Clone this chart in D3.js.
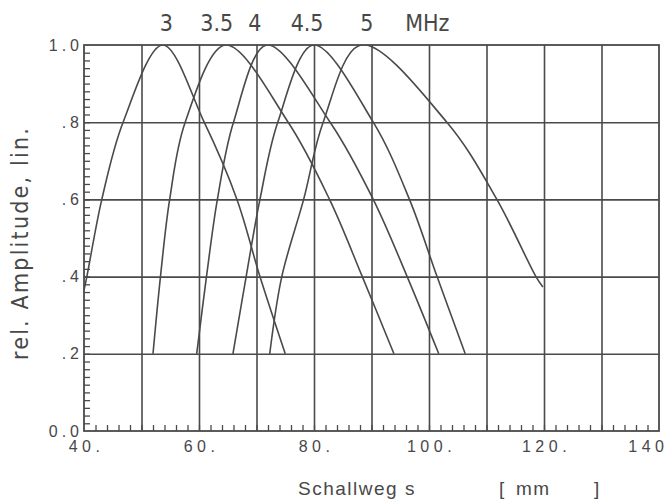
<!DOCTYPE html>
<html>
<head>
<meta charset="utf-8">
<script src="https://cdn.jsdelivr.net/npm/d3@7"></script>
<style>
  html, body { margin: 0; padding: 0; background: #fff; }
  svg { display: block; }
  text { white-space: pre; }
</style>
</head>
<body>
<div id="chart"></div>
<script>
// ---------------- DATA ----------------
const xTickVals   = [40, 60, 80, 100, 120, 140];
const xTickLabels = ["40.", "60.", "80.", "100.", "120.", "140"];
const yTickVals   = [0, 0.2, 0.4, 0.6, 0.8, 1.0];
const yTickLabels = ["0.0", ".2", ".4", ".6", ".8", "1.0"];
const xGrid = [50, 60, 70, 80, 90, 100, 110, 120, 130];
const yGrid = [0.2, 0.4, 0.6, 0.8];

const freqLabels  = ["3", "3.5", "4", "4.5", "5", "MHz"];
const freqLabelX  = [54.3, 63.1, 69.7, 78.8, 89.2, 99.7];

// curves: [Schallweg mm, rel. Amplitude]
const curve3   = [[40,0.365],[40.5,0.4],[43.1,0.6],[46.8,0.8],[53.7,1],[60.9,0.8],[66.6,0.6],[70.6,0.4],[75,0.2]];
const curve3_5 = [[52,0.2],[53.3,0.4],[54.9,0.6],[57.6,0.8],[64.6,1],[75.5,0.8],[82.7,0.6],[88.4,0.4],[93.9,0.2]];
const curve4   = [[59.6,0.2],[61.3,0.4],[63.2,0.6],[66,0.8],[71.8,1],[82.8,0.8],[90.3,0.6],[96.2,0.4],[101.7,0.2]];
const curve4_5 = [[65.9,0.2],[68.2,0.4],[70.6,0.6],[73.7,0.8],[79.9,1],[90.3,0.8],[96.6,0.6],[101.4,0.4],[106.3,0.2]];
const curve5   = [[72.3,0.2],[74.4,0.4],[78.2,0.6],[81.6,0.8],[88.2,1],[103.1,0.8],[111.8,0.6],[118.6,0.4],[119.8,0.373]];
const curves = [curve3, curve3_5, curve4, curve4_5, curve5];

// ---------------- LAYOUT ----------------
const W = 669, H = 501;
const pL = 84, pR = 659, pT = 45, pB = 431;
const ink = "#4a4a4a";
const txt = "#484848";

const svg = d3.select("#chart").append("svg").attr("width", W).attr("height", H);
svg.append("rect").attr("width", W).attr("height", H).attr("fill", "#fff");

const x = d3.scaleLinear().domain([40, 140]).range([pL, pR]);
const y = d3.scaleLinear().domain([0, 1]).range([pB, pT]);

svg.append("clipPath").attr("id", "plotclip")
  .append("rect").attr("x", pL).attr("y", pT).attr("width", pR - pL).attr("height", pB - pT);

// grid lines via axes
svg.append("g").attr("transform", `translate(0,${pB})`)
  .call(d3.axisBottom(x).tickValues(xGrid).tickFormat("").tickSize(-(pB - pT)))
  .call(g => g.select(".domain").remove())
  .call(g => g.selectAll("line").attr("stroke", ink).attr("stroke-width", 1.6));
svg.append("g").attr("transform", `translate(${pL},0)`)
  .call(d3.axisLeft(y).tickValues(yGrid).tickFormat("").tickSize(-(pR - pL)))
  .call(g => g.select(".domain").remove())
  .call(g => g.selectAll("line").attr("stroke", ink).attr("stroke-width", 1.6));

// minor ticks (inward)
svg.append("g").attr("transform", `translate(0,${pB})`)
  .call(d3.axisBottom(x).tickValues(d3.range(42, 140, 2)).tickFormat("").tickSize(-6))
  .call(g => g.select(".domain").remove())
  .call(g => g.selectAll("line").attr("stroke", ink).attr("stroke-width", 1.3));
svg.append("g").attr("transform", `translate(${pL},0)`)
  .call(d3.axisLeft(y).tickValues(d3.range(1, 50).map(i => i * 0.02)).tickFormat("").tickSize(-6))
  .call(g => g.select(".domain").remove())
  .call(g => g.selectAll("line").attr("stroke", ink).attr("stroke-width", 1.3));

// frame
svg.append("rect").attr("x", pL).attr("y", pT)
  .attr("width", pR - pL).attr("height", pB - pT)
  .attr("fill", "none").attr("stroke", ink).attr("stroke-width", 1.8);

// tick labels
svg.append("g").attr("transform", `translate(0,${pB})`)
  .call(d3.axisBottom(x).tickValues(xTickVals).tickFormat((d, i) => xTickLabels[i]).tickSize(0).tickPadding(10))
  .call(g => g.select(".domain").remove())
  .call(g => g.selectAll("text").attr("fill", txt)
     .style("font", "16px 'Liberation Sans', Arial, sans-serif").style("letter-spacing", "4.5px")
     .attr("text-anchor", (d, i) => i === xTickVals.length - 1 ? "end" : "middle")
     .attr("dx", (d, i) => i === xTickVals.length - 1 ? "9px" : "2px"));
svg.append("g").attr("transform", `translate(${pL},0)`)
  .call(d3.axisLeft(y).tickValues(yTickVals).tickFormat((d, i) => yTickLabels[i]).tickSize(0).tickPadding(1))
  .call(g => g.select(".domain").remove())
  .call(g => g.selectAll("text").attr("fill", txt)
     .style("font", "16px 'Liberation Sans', Arial, sans-serif").style("letter-spacing", "4px"));

// curves
const line = d3.line().x(d => x(d[0])).y(d => y(d[1])).curve(d3.curveCatmullRom.alpha(0.5));
svg.append("g").attr("clip-path", "url(#plotclip)")
  .selectAll("path").data(curves).join("path")
  .attr("d", line).attr("fill", "none").attr("stroke", ink).attr("stroke-width", 1.6);

// frequency labels
svg.append("g").selectAll("text").data(freqLabels).join("text")
  .attr("x", (d, i) => x(freqLabelX[i])).attr("y", 31)
  .attr("text-anchor", "middle").attr("fill", txt)
  .style("font", "23px 'Liberation Sans Narrow', 'DejaVu Sans Condensed', sans-serif")
  .text(d => d);

// axis titles
svg.append("text")
  .attr("transform", "translate(28,243) rotate(-90)")
  .attr("text-anchor", "middle").attr("fill", txt)
  .style("font", "23px 'Liberation Sans Narrow', 'DejaVu Sans Condensed', sans-serif")
  .style("letter-spacing", "2.2px")
  .text("rel. Amplitude, lin.");
svg.append("text").attr("x", 298).attr("y", 495).attr("fill", txt)
  .style("font", "19px 'Liberation Sans', Arial, sans-serif").style("letter-spacing", "1.5px")
  .text("Schallweg s");
const unitT = svg.append("text").attr("y", 495).attr("fill", txt)
  .style("font", "19px 'Liberation Sans', Arial, sans-serif").style("letter-spacing", "1.5px");
unitT.append("tspan").attr("x", 499).text("[");
unitT.append("tspan").attr("x", 516).text("mm");
unitT.append("tspan").attr("x", 594).text("]");
</script>
</body>
</html>
